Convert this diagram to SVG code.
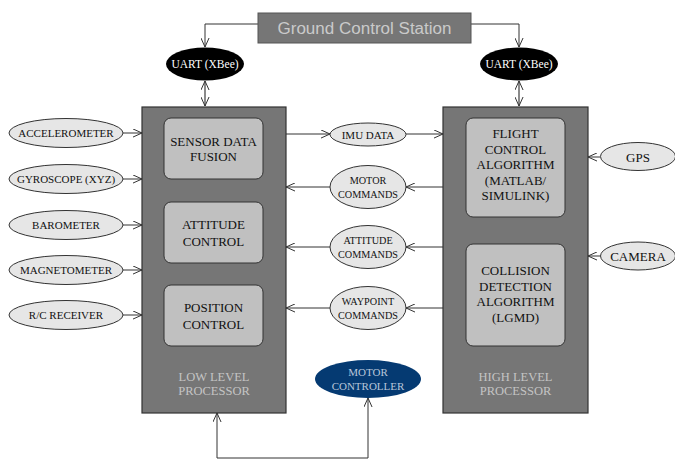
<svg xmlns="http://www.w3.org/2000/svg" width="675" height="459" viewBox="0 0 675 459">
  <defs>
    <marker id="arr" viewBox="0 0 10 10" refX="10" refY="5" markerWidth="9" markerHeight="9" markerUnits="userSpaceOnUse" orient="auto-start-reverse">
      <path d="M0,0.5 L10,5 L0,9.5" fill="none" stroke="#333" stroke-width="1.1"/>
    </marker>
  </defs>
  <style>
    .line { fill: none; stroke: #333; stroke-width: 1; }
    .link { fill: none; stroke: #8a8a8a; stroke-width: 2; }
    .proc { fill: #767676; stroke: #333; stroke-width: 1.2; }
    .inner { fill: #c0c0c0; stroke: #333; stroke-width: 1; }
    .sens { fill: #e6e6e6; stroke: #333; stroke-width: 1; }
    .uart { fill: #000; }
    text { font-family: 'Liberation Serif', 'DejaVu Serif', serif; text-anchor: middle; fill: #111; }
    .s11 { font-size: 11px; }
    .s10 { font-size: 10.2px; }
    .s13 { font-size: 13px; }
    .plabel { font-size: 12.5px; fill: #c4c4c4; }
    .white { fill: #fff; font-size: 11.5px; }
    .mc { fill: #b9c6da; font-size: 11px; }
    .gcs { font-family: 'Liberation Sans', 'DejaVu Sans', sans-serif; font-size: 16px; fill: #cacaca; }
  </style>

  <!-- connectors -->
  <g id="connectors">
    <path class="line" d="M258,24 H205 V47" marker-end="url(#arr)"/>
    <path class="line" d="M471,24 H519 V47" marker-end="url(#arr)"/>
    <path class="link" d="M205,81 V106" marker-start="url(#arr)" marker-end="url(#arr)"/>
    <path class="link" d="M519,81 V106" marker-start="url(#arr)" marker-end="url(#arr)"/>

    <path class="line" d="M123,133 H142" marker-end="url(#arr)"/>
    <path class="line" d="M123,179 H142" marker-end="url(#arr)"/>
    <path class="line" d="M123,225 H142" marker-end="url(#arr)"/>
    <path class="line" d="M123,270 H142" marker-end="url(#arr)"/>
    <path class="line" d="M123,315 H142" marker-end="url(#arr)"/>

    <path class="line" d="M286,134 H330" marker-end="url(#arr)"/>
    <path class="line" d="M406,134 H443" marker-end="url(#arr)"/>
    <path class="line" d="M443,187 H406" marker-end="url(#arr)"/>
    <path class="line" d="M330,187 H286" marker-end="url(#arr)"/>
    <path class="line" d="M443,247 H406" marker-end="url(#arr)"/>
    <path class="line" d="M330,247 H286" marker-end="url(#arr)"/>
    <path class="line" d="M443,308 H406" marker-end="url(#arr)"/>
    <path class="line" d="M330,308 H286" marker-end="url(#arr)"/>

    <path class="line" d="M600,157 H588" marker-end="url(#arr)"/>
    <path class="line" d="M600,256 H588" marker-end="url(#arr)"/>

    <path class="line" d="M217,413 V458 H368 V398" marker-start="url(#arr)" marker-end="url(#arr)"/>
  </g>

  <!-- ground station -->
  <g id="ground-control-station">
    <rect x="258" y="13" width="213" height="30" fill="#767676" stroke="#555" stroke-width="1"/>
    <text class="gcs" x="364.5" y="34" textLength="174" lengthAdjust="spacingAndGlyphs">Ground Control Station</text>
  </g>

  <g id="uart-left">
    <ellipse class="uart" cx="205" cy="64" rx="39" ry="16.5"/>
    <text class="white" x="205" y="68">UART (XBee)</text>
  </g>
  <g id="uart-right">
    <ellipse class="uart" cx="519" cy="64" rx="39" ry="16.5"/>
    <text class="white" x="519" y="68">UART (XBee)</text>
  </g>

  <!-- low level processor -->
  <g id="low-level-processor">
    <rect class="proc" x="142" y="107" width="144" height="306"/>
    <text class="plabel" x="214" y="381">LOW LEVEL</text>
    <text class="plabel" x="214" y="395">PROCESSOR</text>
  </g>
  <g id="sensor-data-fusion">
    <rect class="inner" x="164" y="118" width="99" height="61" rx="7"/>
    <text class="s13" x="213.5" y="146">SENSOR DATA</text>
    <text class="s13" x="213.5" y="161">FUSION</text>
  </g>
  <g id="attitude-control">
    <rect class="inner" x="164" y="202" width="99" height="61" rx="7"/>
    <text class="s13" x="213.5" y="229">ATTITUDE</text>
    <text class="s13" x="213.5" y="246">CONTROL</text>
  </g>
  <g id="position-control">
    <rect class="inner" x="164" y="285" width="99" height="61" rx="7"/>
    <text class="s13" x="213.5" y="312">POSITION</text>
    <text class="s13" x="213.5" y="329">CONTROL</text>
  </g>

  <!-- high level processor -->
  <g id="high-level-processor">
    <rect class="proc" x="443" y="107" width="145" height="306"/>
    <text class="plabel" x="515.5" y="381">HIGH LEVEL</text>
    <text class="plabel" x="515.5" y="395">PROCESSOR</text>
  </g>
  <g id="flight-control-algorithm">
    <rect class="inner" x="466" y="118" width="99" height="99" rx="7"/>
    <text class="s13" x="515.5" y="138">FLIGHT</text>
    <text class="s13" x="515.5" y="153.5">CONTROL</text>
    <text class="s13" x="515.5" y="169">ALGORITHM</text>
    <text class="s13" x="515.5" y="184.5">(MATLAB/</text>
    <text class="s13" x="515.5" y="200">SIMULINK)</text>
  </g>
  <g id="collision-detection">
    <rect class="inner" x="466" y="244" width="99" height="102" rx="7"/>
    <text class="s13" x="515.5" y="275">COLLISION</text>
    <text class="s13" x="515.5" y="290.5">DETECTION</text>
    <text class="s13" x="515.5" y="306">ALGORITHM</text>
    <text class="s13" x="515.5" y="321.5">(LGMD)</text>
  </g>

  <!-- sensors -->
  <g id="accelerometer">
    <ellipse class="sens" cx="66" cy="133" rx="57" ry="14.5"/>
    <text class="s11" x="66" y="137">ACCELEROMETER</text>
  </g>
  <g id="gyroscope">
    <ellipse class="sens" cx="66" cy="179" rx="57" ry="14.5"/>
    <text class="s11" x="66" y="183">GYROSCOPE (XYZ)</text>
  </g>
  <g id="barometer">
    <ellipse class="sens" cx="66" cy="225" rx="57" ry="14.5"/>
    <text class="s11" x="66" y="229">BAROMETER</text>
  </g>
  <g id="magnetometer">
    <ellipse class="sens" cx="66" cy="270" rx="57" ry="14.5"/>
    <text class="s11" x="66" y="274">MAGNETOMETER</text>
  </g>
  <g id="rc-receiver">
    <ellipse class="sens" cx="66" cy="315" rx="57" ry="14.5"/>
    <text class="s11" x="66" y="319">R/C RECEIVER</text>
  </g>

  <!-- data between processors -->
  <g id="imu-data">
    <ellipse class="sens" cx="368" cy="134.5" rx="38" ry="11.5"/>
    <text class="s11" x="368" y="138.5">IMU DATA</text>
  </g>
  <g id="motor-commands">
    <ellipse class="sens" cx="368" cy="187" rx="38" ry="21.5"/>
    <text class="s10" x="368" y="183.5">MOTOR</text>
    <text class="s10" x="368" y="198">COMMANDS</text>
  </g>
  <g id="attitude-commands">
    <ellipse class="sens" cx="368" cy="247" rx="38" ry="21.5"/>
    <text class="s10" x="368" y="243.5">ATTITUDE</text>
    <text class="s10" x="368" y="258">COMMANDS</text>
  </g>
  <g id="waypoint-commands">
    <ellipse class="sens" cx="368" cy="308" rx="38" ry="21.5"/>
    <text class="s10" x="368" y="304.5">WAYPOINT</text>
    <text class="s10" x="368" y="319">COMMANDS</text>
  </g>

  <!-- external inputs -->
  <g id="gps">
    <ellipse class="sens" cx="638" cy="156.5" rx="37.5" ry="14"/>
    <text class="s13" x="638" y="161.5">GPS</text>
  </g>
  <g id="camera">
    <ellipse class="sens" cx="638" cy="256" rx="37.5" ry="14"/>
    <text class="s13" x="638" y="261">CAMERA</text>
  </g>

  <g id="motor-controller">
    <ellipse cx="368" cy="379" rx="53" ry="19" fill="#053a72"/>
    <text class="mc" x="368" y="376">MOTOR</text>
    <text class="mc" x="368" y="389.5">CONTROLLER</text>
  </g>
</svg>
